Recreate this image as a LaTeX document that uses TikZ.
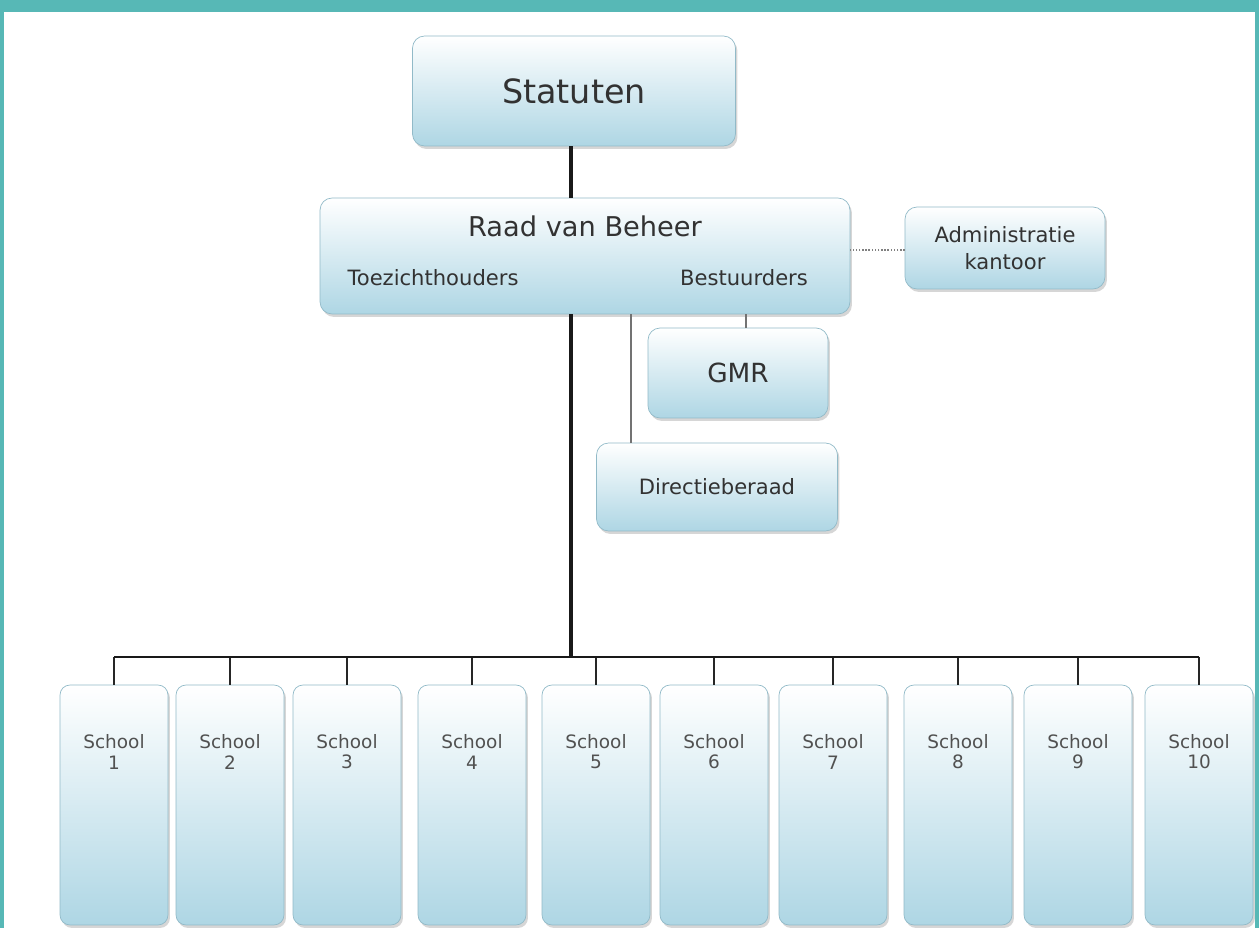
\documentclass[tikz,border=0pt]{standalone}
\usepackage{fontspec}
\setmainfont{DejaVu Sans}
\usetikzlibrary{shadows}
\definecolor{rim}{RGB}{87,184,182}
\definecolor{boxblue}{RGB}{174,214,228}
\definecolor{boxline}{RGB}{145,186,200}
\definecolor{ink}{RGB}{50,50,50}

\begin{document}
\begin{tikzpicture}[
      x=0.02cm,
      y=-0.02cm,
      orgbox/.style={
        draw=boxline,
        rounded corners=0.24cm,
        top color=white,
        middle color=boxblue!40,
        bottom color=boxblue,
        drop shadow={shadow xshift=0.04cm, shadow yshift=-0.06cm, fill=black!45, opacity=0.35},
        text=ink
      },
      schoolbox/.style={
        orgbox,
        rounded corners=0.2cm,
        minimum width=2.16cm,
        minimum height=4.8cm
      },
      label/.style={
        text=ink,
        align=center
      },
      trunk/.style={
        line width=2pt,
        black!90
      },
      twig/.style={
        line width=0.8pt,
        black!55
      }
    ]
    \useasboundingbox (0,0) rectangle (1259,928);
    \fill[rim] (0,0) rectangle (1259,928);
    \fill[white] (4,12) rectangle (1255,928);

    \node[orgbox, minimum width=6.46cm, minimum height=2.2cm,
      font=\fontsize{19}{22}\selectfont] (statuten) at (574,91) {Statuten};
    \node[orgbox, minimum width=10.6cm, minimum height=2.32cm] (raad) at (585,256) {};
    \node[label, font=\fontsize{15.5}{18}\selectfont] (raadtitel) at (585,226) {Raad van Beheer};
    \node[label, font=\fontsize{12}{14}\selectfont] (toezicht) at (433,278) {Toezichthouders};
    \node[label, font=\fontsize{12}{14}\selectfont] (bestuur) at (744,278) {Bestuurders};
    \node[orgbox, minimum width=4.0cm, minimum height=1.64cm, align=center,
      font=\fontsize{12}{15}\selectfont] (admin) at (1005,248) {Administratie\\kantoor};
    \node[orgbox, minimum width=3.6cm, minimum height=1.8cm,
      font=\fontsize{15}{18}\selectfont] (gmr) at (738,373) {GMR};
    \node[orgbox, minimum width=4.82cm, minimum height=1.76cm,
      font=\fontsize{12}{15}\selectfont] (directie) at (717,487) {Directieberaad};

    \coordinate (bus) at (571,657);

    \foreach \x [count=\i] in {114,230,347,472,596,714,833,958,1078,1199} {
      \node[schoolbox] (school\i) at (\x,805) {};
      \node[label, text=ink!85, font=\fontsize{10.5}{11.5}\selectfont] (naam\i) at (\x,752) {School\\\i};
      \draw[line width=1.1pt, black!85] (school\i.north |- bus) -- (school\i.north);
    }

    \draw[trunk] (statuten.south -| bus) -- (bus |- raad.north);
    \draw[trunk] (bus |- raad.south) -- (bus);
    \draw[line width=1.6pt, black!90] (school1.north |- bus) -- (school10.north |- bus);
    \draw[twig] ([xshift=0.16cm]gmr.north) -- ([xshift=0.16cm]gmr.north |- raad.south);
    \draw[twig] ([xshift=0.7cm]directie.north west) -- ([xshift=0.7cm]directie.north west |- raad.south);
    \draw[black!50, line width=0.8pt, densely dotted] ([yshift=-0.04cm]admin.west) -- ([yshift=-0.04cm]admin.west -| raad.east);

  \end{tikzpicture}
\end{document}
